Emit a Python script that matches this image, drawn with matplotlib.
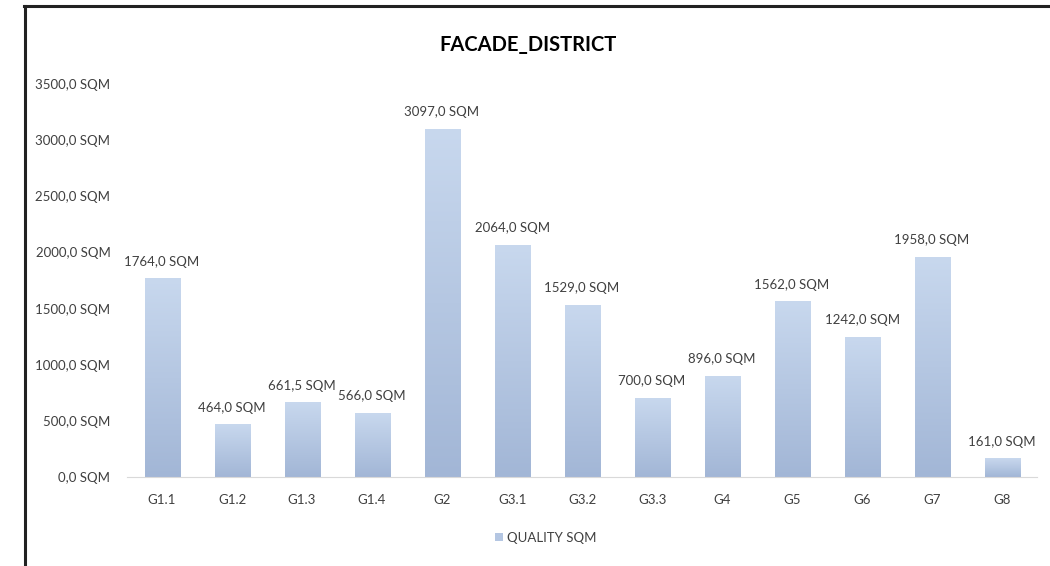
import numpy as np
import matplotlib.pyplot as plt
from matplotlib.colors import LinearSegmentedColormap
from matplotlib.patches import Patch
from matplotlib.lines import Line2D

# chart data
categories = ['G1.1', 'G1.2', 'G1.3', 'G1.4', 'G2', 'G3.1', 'G3.2',
              'G3.3', 'G4', 'G5', 'G6', 'G7', 'G8']
quality_sqm = [1764.0, 464.0, 661.5, 566.0, 3097.0, 2064.0, 1529.0,
               700.0, 896.0, 1562.0, 1242.0, 1958.0, 161.0]
y_ticks = [0, 500, 1000, 1500, 2000, 2500, 3000, 3500]


def sqm(v):
    return f'{v:.1f}'.replace('.', ',') + ' SQM'


plt.rcParams['font.family'] = ['Lato', 'DejaVu Sans']
text_col = '#404040'

fig = plt.figure(figsize=(10.5, 5.66), dpi=100)
ax = fig.add_axes([0.121, 0.1572, 0.8667, 0.6943])

x = np.arange(len(categories))
bars = ax.bar(x, quality_sqm, width=0.5, color='none', edgecolor='none')

# excel style gradient fill, lighter at the top
grad = LinearSegmentedColormap.from_list('g', ['#a2b6d6', '#c8d8ee'])
gradient = np.linspace(0, 1, 256).reshape(-1, 1)
for b in bars:
    bx, by = b.get_x(), b.get_y()
    bw, bh = b.get_width(), b.get_height()
    ax.imshow(gradient, cmap=grad, origin='lower', aspect='auto',
              extent=[bx, bx + bw, by, by + bh], zorder=2)

for xi, v in zip(x, quality_sqm):
    ax.annotate(sqm(v), (xi, v), xytext=(0, 8), textcoords='offset points',
                ha='center', va='bottom', fontsize=9.5, color=text_col)

ax.set_xlim(-0.5, len(categories) - 0.5)
ax.set_ylim(0, 3500)
ax.set_yticks(y_ticks)
ax.set_yticklabels([sqm(t) for t in y_ticks])
ax.set_xticks(x)
ax.set_xticklabels(categories)
ax.tick_params(axis='both', length=0, labelsize=9.5, labelcolor=text_col)
ax.tick_params(axis='y', pad=12)
ax.tick_params(axis='x', pad=12)
for s in ['top', 'right', 'left']:
    ax.spines[s].set_visible(False)
ax.spines['bottom'].set_color('#d9d9d9')
ax.spines['bottom'].set_zorder(3)

fig.text(0.503, 0.92, 'FACADE_DISTRICT', ha='center', va='center',
         fontsize=14.5, fontweight='bold', color='black')

handle = Patch(facecolor='#b4c6e2', edgecolor='none')
fig.legend([handle], ['QUALITY SQM'], loc='center', bbox_to_anchor=(0.52, 0.05),
           frameon=False, fontsize=9.5, handlelength=0.6, handleheight=0.6,
           handletextpad=0.3, labelcolor=text_col)

# frame lines around the picture (top and left only)
fig.add_artist(Line2D([0.024, 0.024], [0, 0.989], color='#222222', lw=2.2))
fig.add_artist(Line2D([0.023, 1.0], [0.989, 0.989], color='#222222', lw=2.2))

fig.savefig('out.png', dpi=100, facecolor='white')
